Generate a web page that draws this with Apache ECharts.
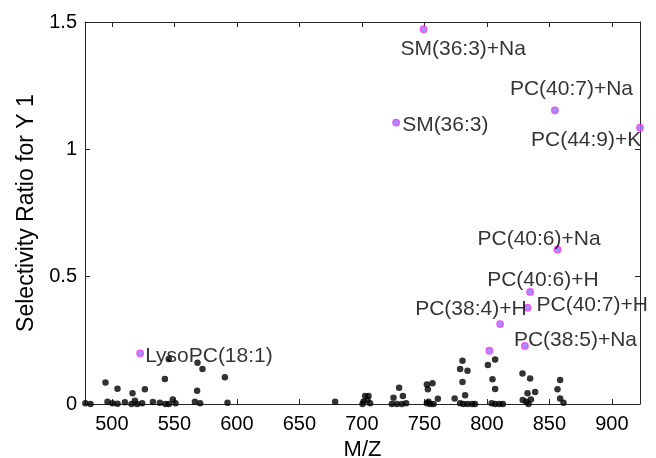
<!DOCTYPE html>
<html>
<head>
<meta charset="utf-8">
<script src="https://cdn.jsdelivr.net/npm/echarts@6/dist/echarts.min.js"></script>
<style>
  html, body { margin: 0; padding: 0; background: #ffffff; }
  #chart { width: 656px; height: 458px; }
</style>
</head>
<body>
<div id="chart"></div>
<script>
// ---- data ----
const mzBlack = [
  478.8, 482.9, 494.9, 496.5, 500.5, 504.5, 504.5, 510.4, 516.5, 518.4,
  515.7, 520.2, 524.2, 526.4, 532.8, 538.4, 542.4, 542.9, 545.6, 548.8,
  550.9, 545.5, 566.4, 568.2, 568.5, 570.6, 572.5, 590.4, 592.5, 678.6,
  700.5, 701.3, 702.6, 704.5, 705.3, 706.6, 724.0, 725.3, 728.0, 729.8,
  732.0, 732.8, 735.4, 752.0, 752.0, 752.8, 753.3, 754.6, 756.5, 757.3,
  760.8, 774.2, 778.6, 778.6, 780.5, 780.5, 781.3, 782.6, 784.5, 784.5,
  788.0, 790.5, 800.8, 803.8, 804.5, 806.6, 806.6, 806.6, 810.0, 812.8,
  828.5, 828.7, 831.5, 832.5, 833.3, 834.6, 835.2, 838.6, 856.5, 858.6,
  858.6, 861.3
];
const srBlack = [
  0.003, 0.000, 0.084, 0.009, 0.003, 0.060, 0.001, 0.007, 0.042, 0.013,
  0.000, 0.000, 0.003, 0.058, 0.008, 0.005, 0.098, 0.000, 0.000, 0.018,
  0.003, 0.177, 0.009, 0.052, 0.162, 0.003, 0.137, 0.105, 0.005, 0.009,
  0.000, 0.009, 0.031, 0.016, 0.031, 0.003, 0.000, 0.025, 0.000, 0.064,
  0.000, 0.031, 0.003, 0.003, 0.077, 0.058, 0.009, 0.000, 0.081, 0.000,
  0.021, 0.022, 0.003, 0.137, 0.170, 0.086, 0.000, 0.034, 0.131, 0.000,
  0.000, 0.000, 0.153, 0.003, 0.097, 0.175, 0.059, 0.000, 0.000, 0.000,
  0.120, 0.016, 0.009, 0.042, 0.000, 0.100, 0.018, 0.047, 0.058, 0.094,
  0.022, 0.005
];
const lipidNames = [
  'SM(36:3)+Na', 'PC(40:7)+Na', 'SM(36:3)', 'PC(44:9)+K', 'PC(40:6)+Na',
  'PC(40:6)+H', 'PC(40:7)+H', 'PC(38:4)+H', 'PC(38:5)+Na', '', 'LysoPC(18:1)'
];
const mzLipid = [749.3, 854.4, 727.4, 922.5, 856.5, 834.6, 832.5, 810.6, 830.4, 802.0, 522.6];
const srLipid = [1.472, 1.153, 1.105, 1.085, 0.607, 0.440, 0.378, 0.314, 0.228, 0.209, 0.199];
const xTickValues = [500, 550, 600, 650, 700, 750, 800, 850, 900];

// ---- style: label offsets in pixels (text left edge, text middle) ----
const labelOffsets = [
  [-23, 20], [-45, -21], [6, 3], [-109, 13], [-80, -10],
  [-43, -11.5], [9, -3], [-85, -14.5], [-11, -6], [0, 0], [5, 2.5]
];

const FONT = '"Liberation Sans", Arial, Helvetica, sans-serif';
const AX = '#262626';
const TXT = '#000000';
const X_MIN = 478.5, X_MAX = 922.5;

const blackData = mzBlack.map((x, i) => [x, srBlack[i]]);
const lipidData = mzLipid.map((x, i) => ({
  value: [x, srLipid[i]],
  name: lipidNames[i],
  label: {
    show: lipidNames[i] !== '',
    position: 'inside',
    align: 'left',
    verticalAlign: 'middle',
    offset: labelOffsets[i]
  }
}));

const chart = echarts.init(document.getElementById('chart'), null, { renderer: 'canvas' });
chart.setOption({
  animation: false,
  backgroundColor: '#ffffff',
  grid: { left: 85, right: 16, top: 22, bottom: 54, containLabel: false, outerBoundsMode: 'none' },
  xAxis: [
    {
      type: 'value', position: 'bottom', min: X_MIN, max: X_MAX,
      axisLine: { show: true, onZero: false, lineStyle: { color: AX, width: 1 } },
      axisTick: { show: true, inside: true, length: 5, customValues: xTickValues, lineStyle: { color: AX } },
      axisLabel: { show: true, customValues: xTickValues, fontSize: 20, color: TXT, fontFamily: FONT, margin: 10 },
      splitLine: { show: false },
      name: 'M/Z', nameLocation: 'middle', nameGap: 33,
      nameTextStyle: { fontSize: 22, color: TXT, fontFamily: FONT }
    },
    {
      type: 'value', position: 'top', min: X_MIN, max: X_MAX,
      axisLine: { show: true, onZero: false, lineStyle: { color: AX, width: 1 } },
      axisTick: { show: true, inside: true, length: 5, customValues: xTickValues, lineStyle: { color: AX } },
      axisLabel: { show: false, customValues: xTickValues },
      splitLine: { show: false }
    }
  ],
  yAxis: [
    {
      type: 'value', position: 'left', min: 0, max: 1.5, interval: 0.5,
      axisLine: { show: true, onZero: false, lineStyle: { color: AX, width: 1 } },
      axisTick: { show: true, inside: true, length: 5, lineStyle: { color: AX } },
      axisLabel: { show: true, fontSize: 20, color: TXT, fontFamily: FONT, margin: 8 },
      splitLine: { show: false },
      name: 'Selectivity Ratio for Y 1', nameLocation: 'middle', nameGap: 46, nameRotate: 90,
      nameTextStyle: { fontSize: 23, color: TXT, fontFamily: FONT }
    },
    {
      type: 'value', position: 'right', min: 0, max: 1.5, interval: 0.5,
      axisLine: { show: true, onZero: false, lineStyle: { color: AX, width: 1 } },
      axisTick: { show: true, inside: true, length: 5, lineStyle: { color: AX } },
      axisLabel: { show: false },
      splitLine: { show: false }
    }
  ],
  series: [
    {
      type: 'scatter', name: 'other', xAxisIndex: 0, yAxisIndex: 0,
      data: blackData, symbol: 'circle', symbolSize: 6.5, clip: false,
      itemStyle: { color: '#000000' }, z: 2
    },
    {
      type: 'scatter', name: 'lipids', xAxisIndex: 0, yAxisIndex: 0,
      data: lipidData, symbol: 'circle', symbolSize: 6.5, clip: false,
      itemStyle: { color: '#8a78ff', borderColor: '#ff30ff', borderWidth: 1.3 },
      label: { formatter: '{b}', fontSize: 21, color: TXT, fontFamily: FONT },
      z: 3
    }
  ]
});
</script>
</body>
</html>
